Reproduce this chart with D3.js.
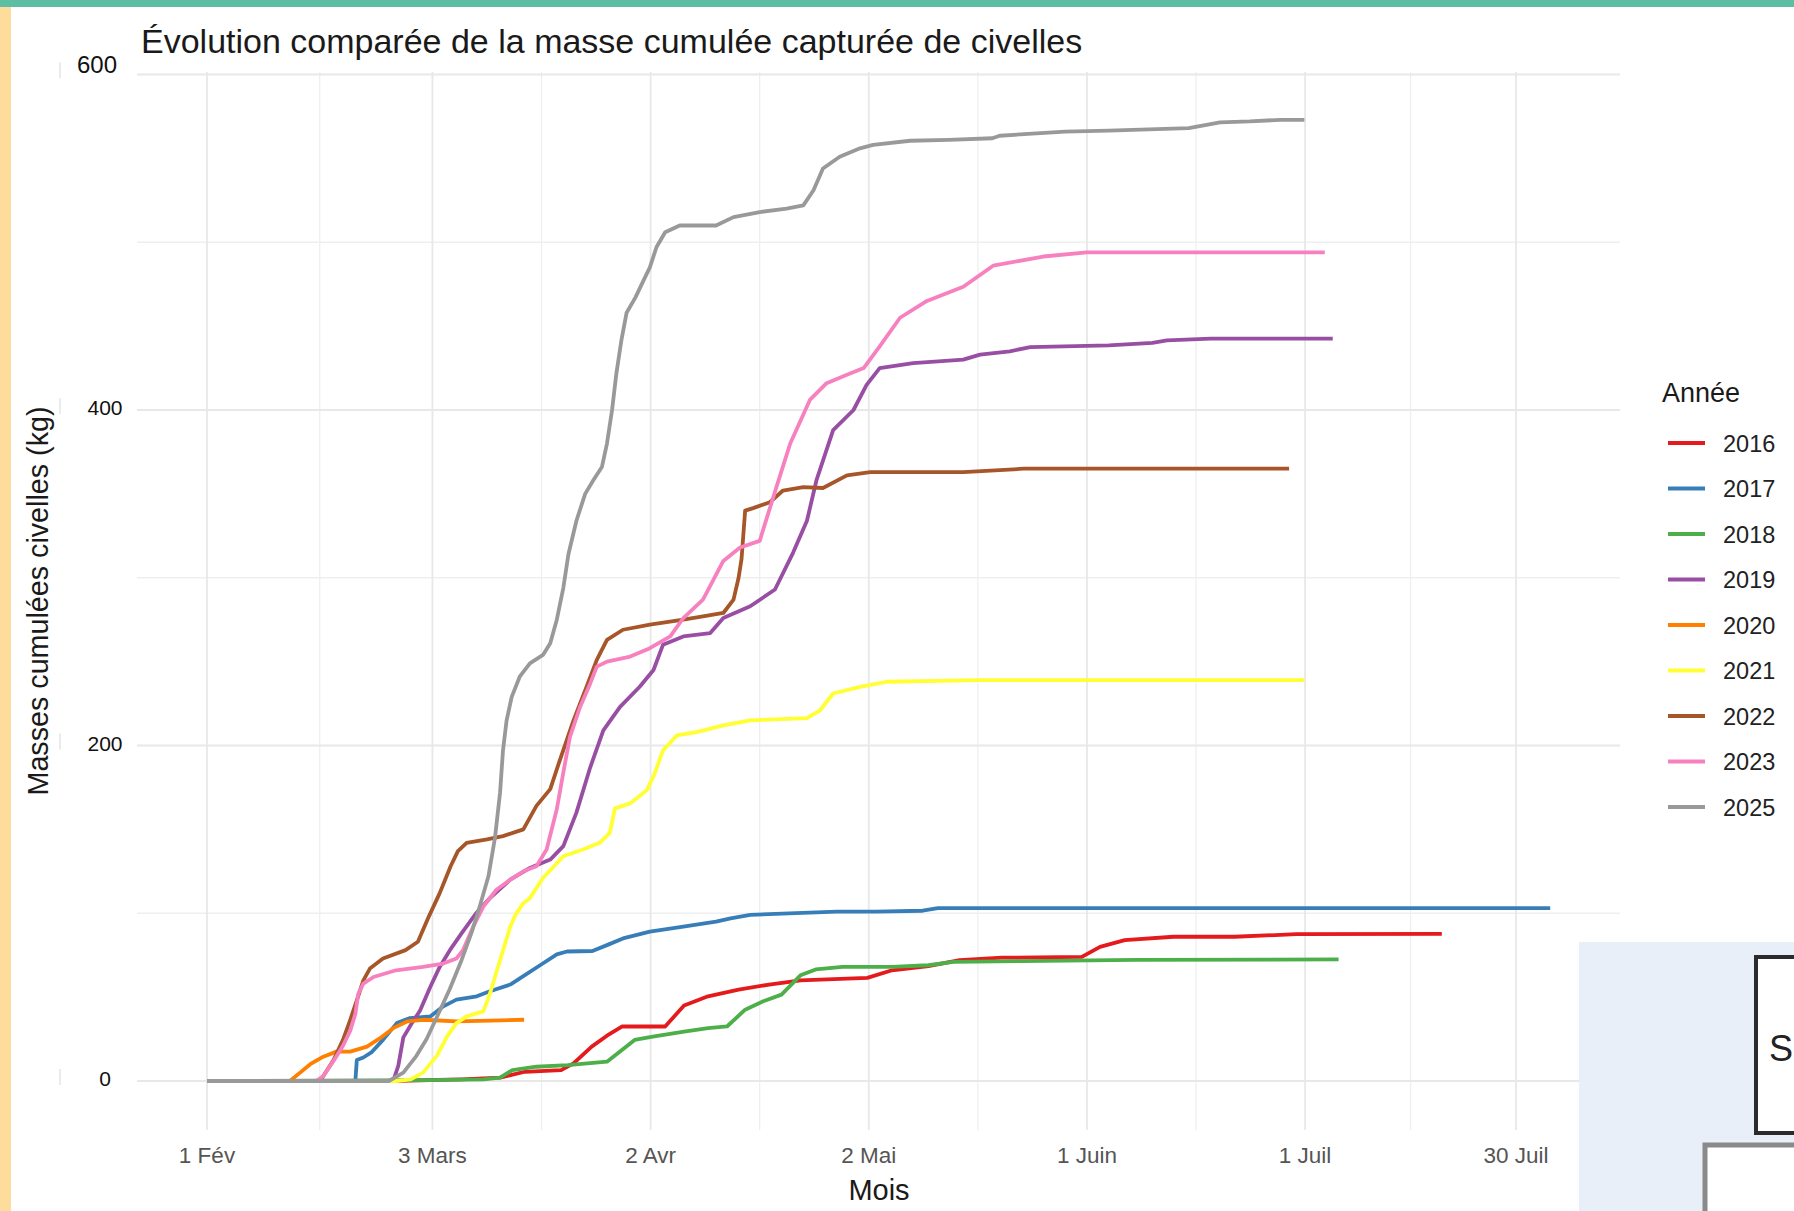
<!DOCTYPE html>
<html><head><meta charset="utf-8">
<script src="https://cdn.jsdelivr.net/npm/d3@7"></script>
<style>
html,body{margin:0;padding:0;background:#fff;}
svg{display:block;font-family:"Liberation Sans",Arial,sans-serif;}
</style></head><body>
<svg id="c" width="1794" height="1211"></svg>
<script>
// ---- Données (jours depuis le 1er février, masse cumulée en kg) ----
const annees = ["2016","2017","2018","2019","2020","2021","2022","2023","2025"];
const couleurs = ["#e41a1c","#377eb8","#4daf4a","#984ea3","#ff7f00","#ffff33","#a65628","#f781bf","#999999"];

const serie2016 = [[0,0],[25,0],[35,1],[40.3,2],[43.7,5.5],[48.7,6.5],[50.4,10.5],[52.9,20.5],[55,27],[57.1,32.5],[63,32.5],[65.6,45],[68.9,50.5],[73.1,54.5],[77.3,57.5],[81.6,60],[90.8,61.5],[94.2,66],[99.2,68.5],[103.5,72],[109.3,73.5],[120.3,74],[122.8,80],[126.2,84],[132.9,86],[141.3,86],[149.8,87.5],[169.8,87.7]];
const serie2017 = [[0,0],[20.4,0],[20.6,12.5],[21.5,14],[22.6,17],[24.2,24.5],[26.1,34.5],[27.9,37.5],[30.7,38.5],[32.5,44.5],[34.3,48.5],[37.1,50.5],[38.9,53.5],[41.7,57.5],[43.5,62.5],[45.8,69],[48.1,75.5],[49.5,77.2],[53,77.5],[55,81],[57.2,85],[60.9,89],[65.5,92],[70,95],[72,97],[74.7,99],[86.6,101],[92,101],[98.4,101.5],[100.5,103],[184.7,103]];
const serie2018 = [[0,0],[30,0.5],[38,1],[40.3,2],[42,6.5],[45.3,8.5],[49.6,9.5],[55,11.5],[58.8,24.5],[61.3,26.5],[65.6,29.5],[68.9,31.5],[71.5,32.5],[74,42.5],[76.5,47.5],[79,51.5],[81.6,63],[83.7,66.5],[87.4,68],[94.2,68],[99.2,69],[102.6,71],[112,71.5],[127.7,72.2],[155.6,72.5]];
const serie2019 = [[0,0],[25.6,0],[26.3,9],[27,26],[28.1,34],[29.3,42],[30.7,56],[32,68],[33.4,78],[35,88],[37,100],[38.9,109],[41.7,120],[44.4,127],[47.2,132],[49,140],[50.8,160],[52.7,187],[54.5,209],[56.8,223],[59.5,235],[61.4,245],[62.7,260],[65.5,265],[69.2,267],[71,276],[74.7,283],[78.1,293],[80.6,315],[82.5,334],[83.8,358],[86.1,388],[88.9,400],[90.7,415],[92.5,425],[97.1,428],[104,430],[106.3,433],[110.4,435],[113.2,437.5],[124,438.5],[130,440],[132,441.5],[138,442.5],[154.8,442.5]];
const serie2020 = [[0,0],[11.4,0],[12.8,5],[14.2,10],[16,14.5],[17.8,17.5],[19.7,17.5],[22,20.5],[23.8,25.5],[25.6,31.5],[27.5,35.5],[29.7,36.5],[34.3,35.5],[38.9,36],[43.6,36.5]];
const serie2021 = [[0,0],[26,0],[28,1],[29.7,5],[31.6,15],[33,26.5],[34.3,34.5],[35.7,38.5],[38,41.5],[38.9,52],[40.3,72],[41.7,92],[42.4,99],[43.5,106],[44.4,109],[46.2,121],[49,134],[51.7,138],[54,142],[55.4,148],[56.1,162.5],[58.2,165.5],[60.5,173.5],[61.4,181.5],[62.7,197],[64.6,206],[67.3,208],[71,212],[74.7,215],[82.5,216.3],[84.3,221],[86.1,231],[89.8,235],[93.5,238],[106,239],[150.9,239]];
const serie2022 = [[0,0],[15.5,0],[16,3],[17.4,12.5],[18.7,24.5],[19.7,36.5],[20.6,48],[21.5,60],[22.4,67],[24.2,73],[27.3,78],[29,83],[30.5,98],[32,112],[33.5,128],[34.5,137],[35.7,142],[38.5,144],[40.7,146],[43.5,150],[45.3,164],[47.2,174],[48.5,191],[50.4,215],[52.2,235],[53.6,251],[55,263],[57.2,269],[60.9,272],[65.5,275],[68.2,277],[71,279],[72.4,287],[73.1,300],[73.5,311],[74,340],[75.1,341.5],[77.4,345],[79.2,352],[82,354],[84.7,353.5],[88,361],[91.2,363],[104,363],[112.3,365],[148.8,365]];
const serie2023 = [[0,0],[15,0],[16,3],[17.4,12],[18.7,21],[19.7,30],[20.4,40],[20.8,52],[21.5,58],[22.9,62],[26,66],[29.7,68],[32.5,70],[34.3,73],[35.2,78],[36.6,92],[38,104],[39.8,114],[41.7,120],[43.5,125],[45.3,128],[46.7,138],[48.1,162],[49,184],[49.9,205],[51.3,223],[52.7,237],[53.6,247],[55,250],[58.2,253],[60.9,258],[63.7,265],[65.5,276],[68.2,287],[71,310],[73.3,318],[76,322],[78.3,354],[80.2,380],[82.9,406],[85.2,416],[88,421],[90.3,425],[92.5,438],[95.3,455],[99,465],[104,473.5],[108.1,486],[115,491.5],[121,494],[153.7,494]];
const serie2025 = [[0,0],[25,0],[27,5],[28.8,15],[30.2,25],[31.6,38],[33.4,55],[35,72],[36.5,90],[37.5,104],[38.7,122],[39.6,145],[40.3,172],[40.7,197],[41.2,215],[41.9,229],[43,241],[44.4,249],[46.2,254],[47.2,261],[48.1,275],[49,294],[49.7,314],[50.8,334],[52,350],[53.1,358],[54.3,366],[55,380],[55.7,400],[56.3,422],[57,442],[57.7,458],[58.9,467],[60,477],[60.9,485],[61.8,497],[63,506],[65,510],[70,510],[72.4,515],[76,518],[79.7,520],[82,522],[83.4,531],[84.7,544],[87,551],[89.8,556],[91.6,558],[96.7,560.5],[102,561],[108,562],[109,563.5],[118,566],[124,566.5],[135,568],[139.3,571.5],[143.4,572],[147.6,573],[150.9,573]];
const series = [serie2016,serie2017,serie2018,serie2019,serie2020,serie2021,serie2022,serie2023,serie2025];

const tickDates  = ["2024-02-01","2024-03-03","2024-04-02","2024-05-02","2024-06-01","2024-07-01","2024-07-30"];
const tickLabels = ["1 Fév","3 Mars","2 Avr","2 Mai","1 Juin","1 Juil","30 Juil"];
const yTicks = [0,200,400,600];
const yMinor = [100,300,500];

// ---- Mise en page ----
const svg = d3.select("#c");
const P = {left:137, right:1620, top:72, bottom:1130};
const t0 = Date.UTC(2024,1,1);
const toDate = d => new Date(t0 + d*86400000);
const x = d3.scaleUtc().domain([new Date(tickDates[0]), new Date(tickDates[tickDates.length-1])]).range([207,1516]);
const y = d3.scaleLinear().domain([0,600]).range([1081,74.5]);

svg.append("rect").attr("width",1794).attr("height",1211).attr("fill","#fff");
svg.append("rect").attr("x",0).attr("y",0).attr("width",11).attr("height",1211).attr("fill","#fedc9c");
svg.append("rect").attr("x",0).attr("y",0).attr("width",1794).attr("height",7).attr("fill","#5cbea3");

// grilles
const g = svg.append("g");
const tds = tickDates.map(s => new Date(s));
const minorX = d3.pairs(tds).map(([a,b]) => new Date((+a + +b)/2));
g.selectAll(".vmin").data(minorX).join("line")
  .attr("x1",d=>x(d)).attr("x2",d=>x(d)).attr("y1",P.top).attr("y2",P.bottom)
  .attr("stroke","#efefef").attr("stroke-width",1.3);
g.selectAll(".hmin").data(yMinor).join("line")
  .attr("x1",P.left).attr("x2",P.right).attr("y1",d=>y(d)).attr("y2",d=>y(d))
  .attr("stroke","#efefef").attr("stroke-width",1.3);
g.selectAll(".vmaj").data(tds).join("line")
  .attr("x1",d=>x(d)).attr("x2",d=>x(d)).attr("y1",P.top).attr("y2",P.bottom)
  .attr("stroke","#e8e8e8").attr("stroke-width",1.8);
g.selectAll(".hmaj").data(yTicks).join("line")
  .attr("x1",P.left).attr("x2",P.right).attr("y1",d=>y(d)).attr("y2",d=>y(d))
  .attr("stroke","#e8e8e8").attr("stroke-width",1.8);

// courbes
const line = d3.line().x(p=>x(toDate(p[0]))).y(p=>y(p[1]));
svg.append("g").selectAll("path").data(series).join("path")
  .attr("d",line).attr("fill","none")
  .attr("stroke",(d,i)=>couleurs[i]).attr("stroke-width",3.8)
  .attr("stroke-linejoin","round");

// axe x
svg.append("g").selectAll("text").data(tds).join("text")
  .attr("x",d=>x(d)).attr("y",1163).attr("text-anchor","middle")
  .attr("font-size",22.5).attr("fill","#555")
  .text((d,i)=>tickLabels[i]);

// axe y (étiquettes noires)
svg.append("g").selectAll("text").data(yTicks).join("text")
  .attr("x",d=> d===600 ? 97 : 105)
  .attr("y",d=> y(d) + (d===600 ? -2 : 5))
  .attr("text-anchor","middle")
  .attr("font-family",d=> d===600 ? "'Liberation Sans Narrow','Liberation Sans',sans-serif" : "'Liberation Sans',sans-serif")
  .attr("font-size",d=> d===600 ? 24 : 21).attr("fill","#111")
  .text(d=>d);
svg.append("g").selectAll("line").data(yTicks).join("line")
  .attr("x1",60).attr("x2",60).attr("y1",d=>y(d)-12).attr("y2",d=>y(d)+4)
  .attr("stroke","#d6d6d6").attr("stroke-width",1);

// titres
svg.append("text").attr("x",141).attr("y",53).attr("font-size",34).attr("fill","#1a1a1a")
  .text("Évolution comparée de la masse cumulée capturée de civelles");
svg.append("text").attr("x",879).attr("y",1200).attr("text-anchor","middle")
  .attr("font-size",29).attr("fill","#1a1a1a").text("Mois");
svg.append("text").attr("transform","translate(48,601) rotate(-90)").attr("text-anchor","middle")
  .attr("font-size",28.7).attr("fill","#1a1a1a").text("Masses cumulées civelles (kg)");

// légende
const leg = svg.append("g");
leg.append("text").attr("x",1662).attr("y",402).attr("font-size",27).attr("fill","#1a1a1a").text("Année");
const rows = leg.selectAll("g").data(annees).join("g")
  .attr("transform",(d,i)=>`translate(0,${443 + i*45.5})`);
rows.append("line").attr("x1",1668).attr("x2",1705).attr("y1",0).attr("y2",0)
  .attr("stroke",(d,i)=>couleurs[i]).attr("stroke-width",3.8);
rows.append("text").attr("x",1723).attr("y",8.5).attr("font-size",23.5).attr("fill","#222").text(d=>d);

// éléments d'interface en bas à droite
svg.append("rect").attr("x",1579).attr("y",942).attr("width",215).attr("height",269).attr("fill","#e9eff9");
svg.append("rect").attr("x",1756).attr("y",957).attr("width",60).attr("height",176)
  .attr("fill","#fff").attr("stroke","#2b2b2b").attr("stroke-width",4);
svg.append("text").attr("x",1769).attr("y",1061).attr("font-size",36).attr("fill","#222").text("S");
svg.append("rect").attr("x",1705).attr("y",1145).attr("width",120).attr("height",100)
  .attr("fill","#fff").attr("stroke","#8a8a8a").attr("stroke-width",5);
</script>
</body></html>
